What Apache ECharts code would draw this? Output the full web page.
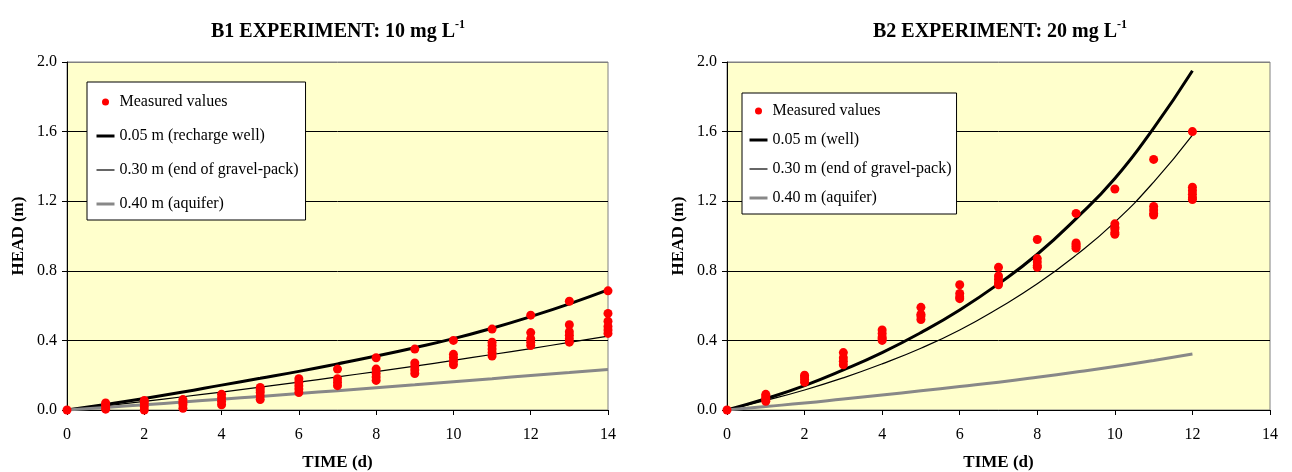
<!DOCTYPE html>
<html>
<head>
<meta charset="utf-8">
<script src="https://cdn.jsdelivr.net/npm/echarts@6/dist/echarts.min.js"></script>
<style>html,body{margin:0;padding:0;background:#fff}#c{width:1292px;height:472px}</style>
</head>
<body>
<div id="c"></div>
<script>
// ---- data ----
const xTicks = [0, 2, 4, 6, 8, 10, 12, 14];
const yTicks = [0.0, 0.4, 0.8, 1.2, 1.6, 2.0];

const b1Days = [0,1,2,3,4,5,6,7,8,9,10,11,12,13,14];
const b1Measured = [
  [0],
  [0.005, 0.02, 0.03, 0.04],
  [0.0, 0.02, 0.04, 0.055],
  [0.01, 0.03, 0.045, 0.06],
  [0.03, 0.05, 0.07, 0.09],
  [0.06, 0.08, 0.10, 0.115, 0.13],
  [0.10, 0.12, 0.14, 0.16, 0.18],
  [0.14, 0.16, 0.18, 0.235],
  [0.17, 0.19, 0.21, 0.235, 0.30],
  [0.21, 0.23, 0.25, 0.27, 0.35],
  [0.26, 0.28, 0.30, 0.32, 0.40],
  [0.31, 0.33, 0.35, 0.37, 0.39, 0.465],
  [0.37, 0.39, 0.41, 0.445, 0.545],
  [0.39, 0.41, 0.43, 0.45, 0.49, 0.625],
  [0.44, 0.46, 0.48, 0.51, 0.555, 0.685]
];
const b1Well    = [0, 0.032, 0.066, 0.103, 0.143, 0.182, 0.222, 0.265, 0.31, 0.358, 0.41, 0.47, 0.537, 0.61, 0.69];
const b1Gravel  = [0, 0.024, 0.050, 0.076, 0.103, 0.131, 0.160, 0.190, 0.221, 0.252, 0.285, 0.319, 0.353, 0.389, 0.425];
const b1Aquifer = [0, 0.015, 0.030, 0.046, 0.062, 0.078, 0.095, 0.111, 0.128, 0.145, 0.163, 0.180, 0.198, 0.215, 0.233];

const b2Days = [0,1,2,3,4,5,6,7,8,9,10,11,12];
const b2Measured = [
  [0],
  [0.05, 0.06, 0.07, 0.08, 0.09],
  [0.16, 0.175, 0.19, 0.20],
  [0.26, 0.28, 0.30, 0.33],
  [0.40, 0.41, 0.42, 0.44, 0.46],
  [0.52, 0.54, 0.55, 0.59],
  [0.64, 0.65, 0.67, 0.72],
  [0.72, 0.73, 0.75, 0.77, 0.82],
  [0.82, 0.83, 0.85, 0.87, 0.98],
  [0.93, 0.94, 0.95, 0.96, 1.13],
  [1.01, 1.02, 1.04, 1.05, 1.07, 1.27],
  [1.12, 1.13, 1.15, 1.17, 1.44],
  [1.21, 1.22, 1.24, 1.26, 1.28, 1.60]
];
const b2Well    = [0, 0.065, 0.14, 0.23, 0.33, 0.445, 0.575, 0.725, 0.895, 1.10, 1.33, 1.62, 1.95];
const b2Gravel  = [0, 0.055, 0.115, 0.185, 0.265, 0.355, 0.46, 0.585, 0.725, 0.89, 1.08, 1.31, 1.58];
const b2Aquifer = [0, 0.02, 0.04, 0.063, 0.086, 0.11, 0.135, 0.16, 0.188, 0.218, 0.25, 0.285, 0.322];

const titles = ['B1 EXPERIMENT: 10 mg L', 'B2 EXPERIMENT: 20 mg L'];
const titleSup = '-1';
const namesB1 = ['Measured values', '0.05 m (recharge well)', '0.30 m (end of gravel-pack)', '0.40 m (aquifer)'];
const namesB2 = ['Measured values', '0.05 m (well)', '0.30 m (end of gravel-pack)', '0.40 m (aquifer)'];
const xName = 'TIME (d)';
const yName = 'HEAD (m)';

// ---- helpers ----
const FONT = "'Liberation Serif', 'Times New Roman', serif";
const C_WELL = '#000', C_GRAVEL = '#000', C_AQ = '#888';
function pairs(days, vals) { return days.map((d, i) => [d, vals[i]]); }
function scatterPts(days, meas) {
  const out = [];
  meas.forEach((arr, i) => arr.forEach(v => out.push([days[i], v])));
  return out;
}
function xAxisCfg(idx) {
  return {
    type: 'value', gridIndex: idx, min: xTicks[0], max: xTicks[xTicks.length - 1], interval: 2,
    name: xName, nameLocation: 'middle', nameGap: 44,
    nameTextStyle: { fontFamily: FONT, fontWeight: 'bold', fontSize: 17, color: '#000' },
    axisLine: { show: true, onZero: false, lineStyle: { color: '#000', width: 1 } },
    axisTick: { show: true, inside: false, length: 5, lineStyle: { color: '#000' } },
    axisLabel: { margin: 17, fontFamily: FONT, fontSize: 16, color: '#000' },
    splitLine: { show: false }
  };
}
function yAxisCfg(idx) {
  return {
    type: 'value', gridIndex: idx, min: yTicks[0], max: yTicks[yTicks.length - 1], interval: 0.4,
    name: yName, nameLocation: 'middle', nameGap: 40, nameRotate: 90,
    nameTextStyle: { fontFamily: FONT, fontWeight: 'bold', fontSize: 17, color: '#000' },
    axisLine: { show: true, onZero: false, lineStyle: { color: '#000', width: 1 } },
    axisTick: { show: true, inside: false, length: 5, lineStyle: { color: '#000' } },
    axisLabel: { margin: 10, fontFamily: FONT, fontSize: 16, color: '#000', formatter: v => v.toFixed(1) },
    splitLine: { show: true, lineStyle: { color: ['#000', '#000', '#000', '#000', '#000', '#808080'], width: 1 } }
  };
}
function seriesFor(idx, names, days, meas, well, gravel, aquifer) {
  return [
    { type: 'line', name: names[1], xAxisIndex: idx, yAxisIndex: idx, data: pairs(days, well), smooth: true,
      symbol: 'none', lineStyle: { color: C_WELL, width: 3 }, itemStyle: { color: C_WELL }, z: 2 },
    { type: 'line', name: names[2], xAxisIndex: idx, yAxisIndex: idx, data: pairs(days, gravel), smooth: true,
      symbol: 'none', lineStyle: { color: C_GRAVEL, width: 1.2 }, itemStyle: { color: C_GRAVEL }, z: 2 },
    { type: 'line', name: names[3], xAxisIndex: idx, yAxisIndex: idx, data: pairs(days, aquifer), smooth: true,
      symbol: 'none', lineStyle: { color: C_AQ, width: 3 }, itemStyle: { color: C_AQ }, z: 2 },
    { type: 'scatter', name: names[0], xAxisIndex: idx, yAxisIndex: idx, data: scatterPts(days, meas),
      symbol: 'circle', symbolSize: 9, itemStyle: { color: '#ff0000', opacity: 1 }, z: 5 }
  ];
}
const NOSYM = { color: 'rgba(0,0,0,0)', borderColor: 'rgba(0,0,0,0)', borderWidth: 0, opacity: 0 };
function legendCfg(names, left, top, gap, pad) {
  return {
    orient: 'vertical', left: left, top: top, itemGap: gap, itemWidth: 18, itemHeight: 7,
    padding: pad, backgroundColor: '#fff', borderColor: '#000', borderWidth: 1, borderRadius: 0,
    selectedMode: false,
    textStyle: { fontFamily: FONT, fontSize: 16, color: '#000' },
    data: [
      { name: names[0], icon: 'circle', itemStyle: { color: '#ff0000' } },
      { name: names[1], itemStyle: NOSYM, lineStyle: { color: C_WELL, width: 3 } },
      { name: names[2], itemStyle: NOSYM, lineStyle: { color: C_GRAVEL, width: 1.2 } },
      { name: names[3], itemStyle: NOSYM, lineStyle: { color: C_AQ, width: 3 } }
    ]
  };
}
function titleCfg(text, cx) {
  return {
    text: '{a|' + text + '}{s|' + titleSup + '}', left: cx, top: 14, textAlign: 'center',
    textStyle: {
      rich: {
        a: { fontFamily: FONT, fontWeight: 'bold', fontSize: 20, color: '#000', lineHeight: 26 },
        s: { fontFamily: FONT, fontWeight: 'bold', fontSize: 12, color: '#000', verticalAlign: 'top', lineHeight: 14 }
      }
    }
  };
}

const chart = echarts.init(document.getElementById('c'), null, { renderer: 'canvas' });
chart.setOption({
  backgroundColor: '#fff',
  animation: false,
  title: [titleCfg(titles[0], 333), titleCfg(titles[1], 995)],
  grid: [
    { left: 67, right: 684, top: 62, bottom: 62, outerBoundsMode: 'none', containLabel: false,
      show: true, backgroundColor: '#FFFFCC', borderColor: '#808080', borderWidth: 1 },
    { left: 727, right: 22, top: 62, bottom: 62, outerBoundsMode: 'none', containLabel: false,
      show: true, backgroundColor: '#FFFFCC', borderColor: '#808080', borderWidth: 1 }
  ],
  xAxis: [xAxisCfg(0), xAxisCfg(1)],
  yAxis: [yAxisCfg(0), yAxisCfg(1)],
  legend: [
    legendCfg(namesB1, 87, 82, 18, [12, 7, 8, 8]),
    legendCfg(namesB2, 742, 93, 13, [10, 5, 8, 6])
  ],
  series: [
    ...seriesFor(0, namesB1, b1Days, b1Measured, b1Well, b1Gravel, b1Aquifer),
    ...seriesFor(1, namesB2, b2Days, b2Measured, b2Well, b2Gravel, b2Aquifer)
  ]
});
</script>
</body>
</html>
